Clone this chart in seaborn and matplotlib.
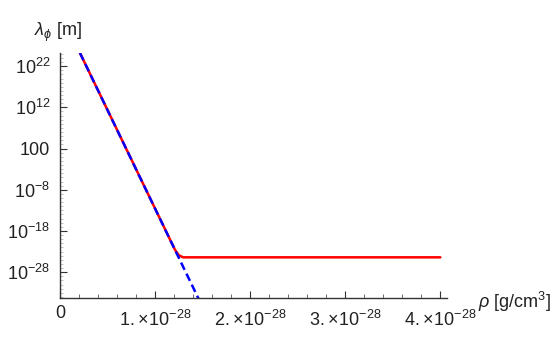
import numpy as np
import pandas as pd
import matplotlib
matplotlib.use("Agg")
import matplotlib.pyplot as plt
import matplotlib.transforms as mtransforms
import seaborn as sns
from matplotlib.ticker import FixedLocator, FixedFormatter

# data (rho in units of 1e-28 g/cm^3, log10 of lambda in m)
rho_red = [0.21, 1.21, 1.25, 1.295, 4.0]
log_lam_red = [25.2, -22.6, -23.9, -24.4, -24.4]
rho_blue = [0.21, 1.50]
log_lam_blue = [25.2, -36.5]

xticks = [0, 1, 2, 3, 4]
xticklabels = ["0", r"$1.\!\times\!10^{-28}$", r"$2.\!\times\!10^{-28}$",
               r"$3.\!\times\!10^{-28}$", r"$4.\!\times\!10^{-28}$"]
yticks = [22, 12, 2, -8, -18, -28]
yticklabels = [r"$10^{22}$", r"$10^{12}$", "100", r"$10^{-8}$", r"$10^{-18}$", r"$10^{-28}$"]

sns.set_style("ticks")
plt.rcParams["font.family"] = ["Liberation Sans", "DejaVu Sans"]
plt.rcParams["mathtext.fontset"] = "custom"
plt.rcParams["mathtext.rm"] = "Liberation Sans"
plt.rcParams["mathtext.it"] = "Liberation Sans:italic"
plt.rcParams["mathtext.fallback"] = "stixsans"

df_red = pd.DataFrame({"rho": np.array(rho_red) * 1e-28, "lam": 10.0 ** np.array(log_lam_red)})
df_blue = pd.DataFrame({"rho": np.array(rho_blue) * 1e-28, "lam": 10.0 ** np.array(log_lam_blue)})

fig = plt.figure(figsize=(5.6, 3.56), dpi=100)
ax = fig.add_axes([60/560, 1 - 297.7/356, 387/560, 244.7/356])

sns.lineplot(data=df_red, x="rho", y="lam", ax=ax, color=(1, 0, 0), lw=1.8,
             estimator=None, sort=False)
sns.lineplot(data=df_blue, x="rho", y="lam", ax=ax, color=(0, 0, 1), lw=1.8,
             estimator=None, sort=False, dashes=False, linestyle=(0, (3.2, 1.7)))

ax.set_yscale("log")
ax.set_xlim(0, 4.07e-28)
ax.set_ylim(10 ** -34.2, 10 ** 25.2)

ax.xaxis.set_major_locator(FixedLocator([v * 1e-28 for v in xticks]))
ax.xaxis.set_major_formatter(FixedFormatter(xticklabels))
ax.xaxis.set_minor_locator(FixedLocator([v * 1e-28 for v in np.arange(0, 4.05, 0.2)]))
ax.yaxis.set_major_locator(FixedLocator([10.0 ** v for v in yticks]))
ax.yaxis.set_major_formatter(FixedFormatter(yticklabels))
ax.yaxis.set_minor_locator(FixedLocator([10.0 ** v for v in range(-34, 26)]))
ax.yaxis.set_minor_formatter(FixedFormatter([]))

for s in ["top", "right"]:
    ax.spines[s].set_visible(False)
for s in ["left", "bottom"]:
    ax.spines[s].set_color("#333333")
    ax.spines[s].set_linewidth(1.0)

ax.tick_params(axis="both", which="major", direction="in", length=5, width=0.8,
               color="#333333", labelsize=13, labelcolor="#222222")
ax.tick_params(axis="x", which="major", pad=5)
ax.tick_params(axis="y", which="major", pad=7)
ax.tick_params(axis="x", which="minor", direction="in", length=3, width=0.6, color="#555555")
ax.tick_params(axis="y", which="minor", direction="in", length=2.5, width=0.5, color="#aaaaaa")

# lower the labels carrying superscripts a little (Mathematica-like alignment)
shift = mtransforms.ScaledTranslation(0, -5/100, fig.dpi_scale_trans)
for i, lab in enumerate(ax.get_xticklabels()):
    if i > 0:
        lab.set_transform(lab.get_transform() + shift)

ax.set_xlabel("")
ax.set_ylabel("")
fig.text(34/560, 1 - 32/356, r"$\lambda_\phi$ [m]", fontsize=13, va="center", ha="left", color="#222222")
fig.text(478/560, 1 - 302/356, r"$\rho$ [g/cm$^3$]", fontsize=13, va="center", ha="left", color="#222222")

fig.savefig("out.png", dpi=100)
